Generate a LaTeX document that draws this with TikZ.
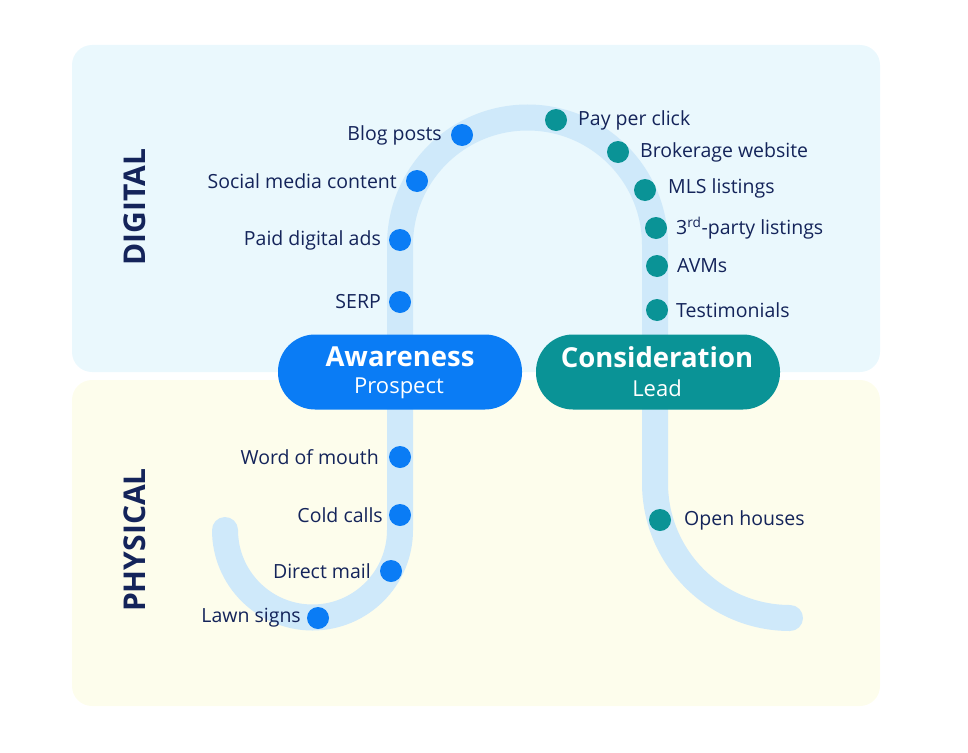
\documentclass[tikz,border=0pt]{standalone}
\usepackage{fontspec}
\setmainfont{Open Sans}
\definecolor{navy}{HTML}{14245A}
\definecolor{dblue}{HTML}{0A7CF5}
\definecolor{teal}{HTML}{0A9396}
\definecolor{track}{HTML}{CFE9FA}
\definecolor{topbg}{HTML}{EAF8FD}
\definecolor{botbg}{HTML}{FDFDEC}
\begin{document}
\begin{tikzpicture}[x=1pt,y=-1pt,
  bdot/.style={circle,fill=dblue,minimum size=22pt,inner sep=0pt},
  tdot/.style={circle,fill=teal,minimum size=22pt,inner sep=0pt},
  lab/.style={text=navy,font=\fontsize{19.5}{22}\selectfont,inner sep=0pt},
  pill/.style={rounded corners=37pt,minimum width=244pt,minimum height=75pt,text=white,align=center,inner sep=0pt},
  side/.style={rotate=90,text=navy,font=\fontsize{30}{32}\selectfont\bfseries}]
\useasboundingbox (0,0) rectangle (968,752);
\fill[topbg,rounded corners=20pt] (72,45) rectangle (880,372);
\fill[botbg,rounded corners=20pt] (72,380) rectangle (880,706);
\node[side] (dig) at (135,207) {DIGITAL};
\node[side] (phy) at (135,540) {PHYSICAL};
\draw[track,line width=26pt,line cap=round] (225,530) arc[start angle=180,end angle=0,radius=87.5] -- (400,245) arc[start angle=180,end angle=360,radius=127.5] -- (655,483) arc[start angle=180,end angle=90,radius=135];
% left dots
\node[bdot] (d1) at (462,135) {}; \node[lab,anchor=east] at (442,135) {Blog posts};
\node[bdot] (d2) at (417,181) {}; \node[lab,anchor=east] at (397,181) {Social media content};
\node[bdot] (d3) at (400,240) {}; \node[lab,anchor=east] at (381,240) {Paid digital ads};
\node[bdot] (d4) at (400,302) {}; \node[lab,anchor=east] at (381,302) {SERP};
\node[bdot] (d5) at (400,457) {}; \node[lab,anchor=east] at (379,457) {Word of mouth};
\node[bdot] (d6) at (400,515) {}; \node[lab,anchor=east] at (383,515) {Cold calls};
\node[bdot] (d7) at (391,571) {}; \node[lab,anchor=east] at (371,571) {Direct mail};
\node[bdot] (d8) at (318,618) {}; \node[lab,anchor=east] at (301,618) {Lawn signs};
% right dots
\node[tdot] (e1) at (556,120) {}; \node[lab,anchor=west] at (578,120) {Pay per click};
\node[tdot] (e2) at (618,152) {}; \node[lab,anchor=west] at (640,152) {Brokerage website};
\node[tdot] (e3) at (645,190) {}; \node[lab,anchor=west] at (668,188) {MLS listings};
\node[tdot] (e4) at (656,228) {}; \node[lab,anchor=west] at (676,228) {3\textsuperscript{rd}-party listings};
\node[tdot] (e5) at (657,266) {}; \node[lab,anchor=west] at (677,266) {AVMs};
\node[tdot] (e6) at (657,310) {}; \node[lab,anchor=west] at (676,310) {Testimonials};
\node[tdot] (e7) at (660,520) {}; \node[lab,anchor=west] at (684,520) {Open houses};
% pills
\node[pill,fill=dblue] (aw) at (400,372) {};
\node[text=white,font=\fontsize{27.5}{30}\selectfont\bfseries] at (400,357) {Awareness};
\node[text=white,font=\fontsize{22}{24}\selectfont] at (399,388) {Prospect};
\node[pill,fill=teal] (co) at (658,372) {};
\node[text=white,font=\fontsize{27.5}{30}\selectfont\bfseries] at (657,357) {Consideration};
\node[text=white,font=\fontsize{22}{24}\selectfont] at (657,388) {Lead};
\end{tikzpicture}
\end{document}
